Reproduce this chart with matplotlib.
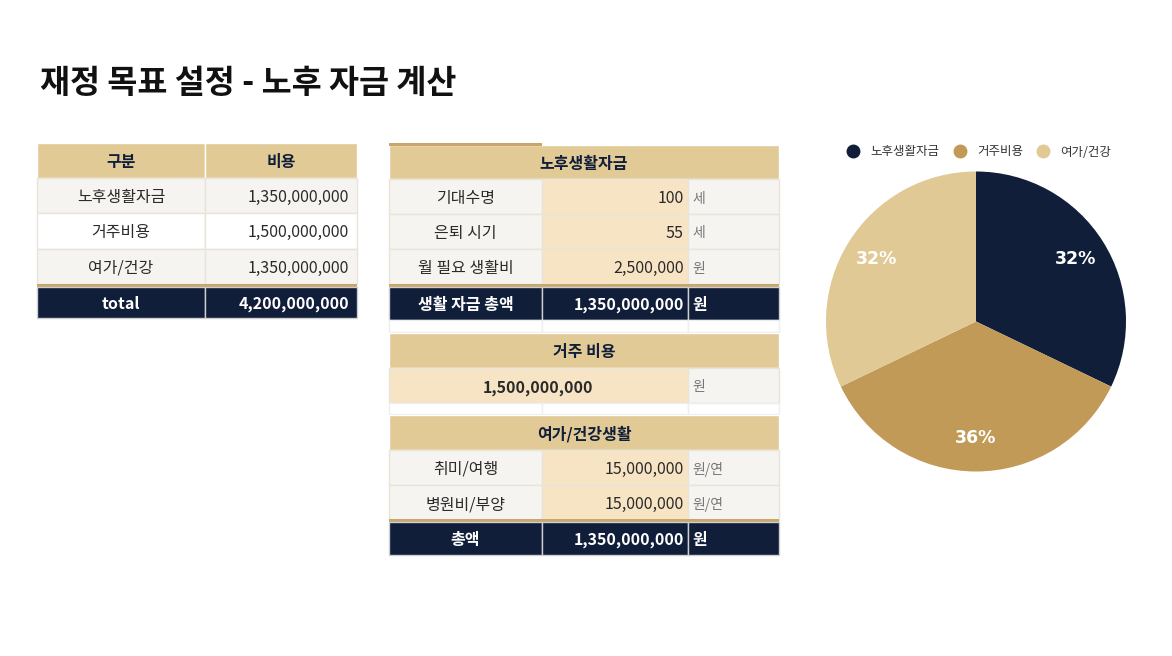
import matplotlib
matplotlib.use("Agg")
import matplotlib.pyplot as plt
from matplotlib.patches import Rectangle
from matplotlib.lines import Line2D

plt.rcParams['font.family'] = ['Noto Sans CJK KR', 'DejaVu Sans']

# =============================================================================
# data
# =============================================================================
title = '재정 목표 설정 - 노후 자금 계산'

summary_header = ['구분', '비용']
summary_labels = ['노후생활자금', '거주비용', '여가/건강']
summary_values = [1350000000, 1500000000, 1350000000]

retire_title = '노후생활자금'
retire_labels = ['기대수명', '은퇴 시기', '월 필요 생활비']
retire_values = [100, 55, 2500000]
retire_units = ['세', '세', '원']
retire_total_label = '생활 자금 총액'
retire_total = 1350000000

housing_title = '거주 비용'
housing_value = 1500000000
housing_unit = '원'

leisure_title = '여가/건강생활'
leisure_labels = ['취미/여행', '병원비/부양']
leisure_values = [15000000, 15000000]
leisure_units = ['원/연', '원/연']
leisure_total_label = '총액'
leisure_total = 1350000000

# =============================================================================
# styles
# =============================================================================
NAVY = '#101e3a'
GOLD = '#e2ca96'
GOLD_LINE = '#c9a66b'
GRAY = '#f6f4f0'
CREAM = '#f7e4c4'
WHITE = '#ffffff'
TXT = '#2a2a2a'
UNIT = '#777777'
FS = 11.5
DY = 2  # cjk glyphs sit a bit high with va=center

fig = plt.figure(figsize=(11.72, 6.56), dpi=100)
ax = fig.add_axes([0, 0, 1, 1])
ax.set_xlim(0, 1172)
ax.set_ylim(656, 0)
ax.axis('off')


def cell(x0, x1, y0, y1, face, edge=WHITE):
    ax.add_patch(Rectangle((x0, y0), x1 - x0, y1 - y0, facecolor=face,
                           edgecolor=edge, linewidth=1))


def txt(x, y, s, ha='center', color=TXT, weight='normal', size=FS):
    ax.text(x, y + DY, s, ha=ha, va='center', color=color, fontweight=weight,
            fontsize=size)


def money(v):
    return f'{v:,}'


ax.text(40, 83, title, ha='left', va='center', fontsize=23.5,
        fontweight='bold', color='#111111')

# =============================================================================
# left summary table
# =============================================================================
c0, c1, c2 = 37, 205, 357
cell(c0, c1, 143, 178, GOLD)
cell(c1, c2, 143, 178, GOLD)
txt((c0 + c1) / 2, 160, summary_header[0], color=NAVY, weight='bold')
txt((c1 + c2) / 2, 160, summary_header[1], color=NAVY, weight='bold')
y = 178
for i, (lab, val) in enumerate(zip(summary_labels, summary_values)):
    face = GRAY if i % 2 == 0 else WHITE
    cell(c0, c1, y, y + 35.3, face, '#e9e4da')
    cell(c1, c2, y, y + 35.3, face, '#e9e4da')
    txt((c0 + c1) / 2, y + 17.6, lab)
    txt(c2 - 8, y + 17.6, money(val), ha='right')
    y += 35.3
ax.add_patch(Rectangle((c0, 284), c2 - c0, 2.5, facecolor=GOLD_LINE, lw=0))
cell(c0, c1, 286.5, 318, NAVY, '#cfcfcf')
cell(c1, c2, 286.5, 318, NAVY, '#cfcfcf')
txt((c0 + c1) / 2, 302, 'total', color=WHITE, weight='bold')
txt(c2 - 8, 302, money(sum(summary_values)), ha='right', color=WHITE,
    weight='bold')

# =============================================================================
# middle detail table
# =============================================================================
m0, m1, m2, m3 = 389, 542, 688, 779


def header(y0, y1, s):
    cell(m0, m3, y0, y1, GOLD)
    txt((m0 + m3) / 2, (y0 + y1) / 2, s, color=NAVY, weight='bold')


def row(y0, y1, lab, val, unit):
    yc = (y0 + y1) / 2
    cell(m0, m1, y0, y1, GRAY, '#e9e4da')
    cell(m1, m2, y0, y1, CREAM, '#e9e4da')
    cell(m2, m3, y0, y1, GRAY, '#e9e4da')
    txt((m0 + m1) / 2, yc, lab)
    txt(m2 - 4, yc, money(val), ha='right')
    txt(m2 + 4, yc, unit, ha='left', color=UNIT, size=FS - 1.5)


def total_row(y0, y1, lab, val):
    yc = (y0 + y1) / 2
    ax.add_patch(Rectangle((m0, y0 - 2.5), m3 - m0, 2.5,
                           facecolor=GOLD_LINE, lw=0))
    for a, b in [(m0, m1), (m1, m2), (m2, m3)]:
        cell(a, b, y0, y1, NAVY, '#cfcfcf')
    txt((m0 + m1) / 2, yc, lab, color=WHITE, weight='bold')
    txt(m2 - 4, yc, money(val), ha='right', color=WHITE, weight='bold')
    txt(m2 + 4, yc, '원', ha='left', color=WHITE, weight='bold')


def blank(y0, y1):
    for a, b in [(m0, m1), (m1, m2), (m2, m3)]:
        cell(a, b, y0, y1, WHITE, '#eeeeee')


header(145, 179, retire_title)
ax.add_patch(Rectangle((m0, 143), m1 - m0, 2.5, facecolor=GOLD_LINE, lw=0))
y = 179
for lab, val, unit in zip(retire_labels, retire_values, retire_units):
    row(y, y + 35, lab, val, unit)
    y += 35
total_row(286.5, 320, retire_total_label, retire_total)
blank(320, 332)

header(333, 368, housing_title)
cell(m0, m2, 368, 403, CREAM, '#e9e4da')
cell(m2, m3, 368, 403, GRAY, '#e9e4da')
txt((m0 + m2) / 2, 385.5, money(housing_value), weight='bold')
txt(m2 + 4, 385.5, housing_unit, ha='left', color=UNIT, size=FS - 1.5)
blank(403, 414)

header(415, 450, leisure_title)
y = 450
for lab, val, unit in zip(leisure_labels, leisure_values, leisure_units):
    row(y, y + 35, lab, val, unit)
    y += 35
total_row(521.5, 555, leisure_total_label, leisure_total)

# =============================================================================
# pie
# =============================================================================
pie_colors = [NAVY, '#c19a58', '#e0c994']
pax = fig.add_axes([826 / 1172, 1 - 471.5 / 656, 300 / 1172, 300 / 656])
wedges, texts, autotexts = pax.pie(summary_values, colors=pie_colors,
                                   startangle=90, counterclock=False,
                                   autopct='%.0f%%', pctdistance=0.78,
                                   textprops=dict(color='white',
                                                  fontweight='bold',
                                                  fontsize=12.5,
                                                  family='DejaVu Sans'))
pax.set_xlim(-1, 1)
pax.set_ylim(-1, 1)
pax.set_aspect('equal')

handles = [Line2D([], [], marker='o', ls='', markersize=9,
                  markerfacecolor=c, markeredgecolor=c) for c in pie_colors]
fig.legend(handles, summary_labels, loc='center',
           bbox_to_anchor=(976 / 1172, 1 - 152 / 656), ncol=3,
           frameon=False, fontsize=9, handletextpad=0.4, columnspacing=0.6,
           labelcolor='#333333')

fig.savefig('out.png', dpi=100)
